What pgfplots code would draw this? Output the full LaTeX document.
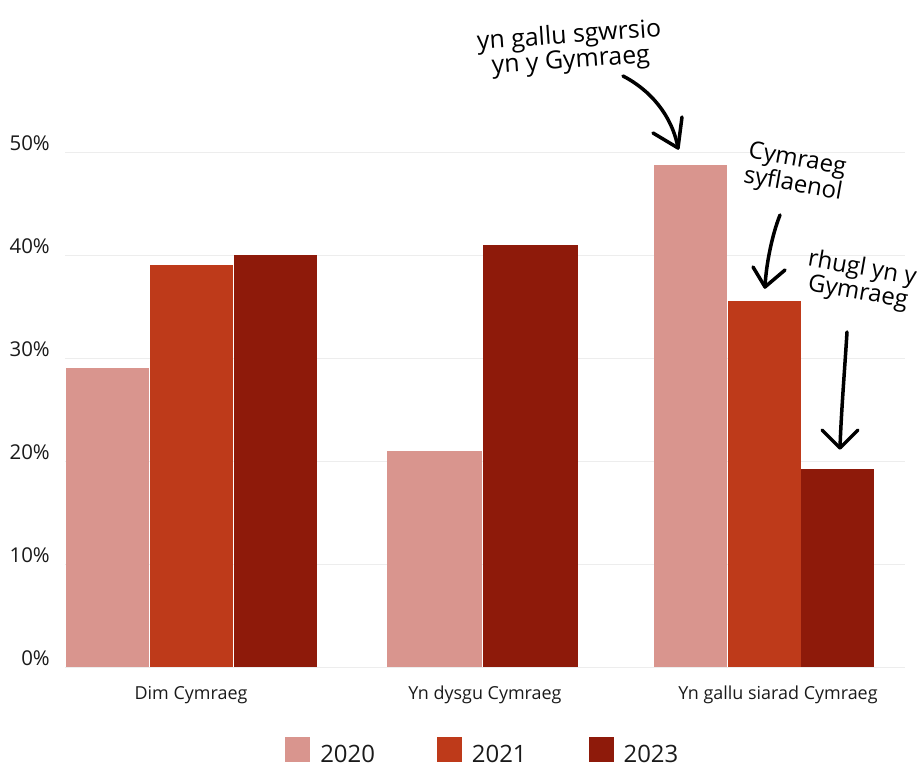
\documentclass[border=0pt]{standalone}
\usepackage{fontspec}
\setmainfont{Open Sans}
\usepackage{pgfplots}
\pgfplotsset{compat=1.18}
\definecolor{cA}{HTML}{D9958E}
\definecolor{cB}{HTML}{BE3A1A}
\definecolor{cC}{HTML}{8E1A0A}
\definecolor{gridc}{HTML}{EDEDED}
\definecolor{txt}{HTML}{1A1A1A}
\begin{document}
\begin{tikzpicture}[x=1bp,y=1bp]
\path[use as bounding box] (0,0) rectangle (922,765);
\begin{axis}[
  at={(65bp,98bp)}, anchor=south west,
  scale only axis, width=840bp, height=515bp,
  xmin=65, xmax=905, ymin=0, ymax=50,
  clip=false,
  axis line style={draw=none},
  major tick style={draw=none},
  ytick={0,10,20,30,40,50},
  yticklabel={\pgfmathprintnumber{\tick}\%},
  /pgf/number format/assume math mode=true,
  ymajorgrids, grid style={color=gridc, line width=0.8bp},
  xtick={191,485,778},
  xticklabels={Dim Cymraeg, Yn dysgu Cymraeg, Yn gallu siarad Cymraeg},
  ticklabel style={font=\fontsize{18}{20}\selectfont, text=txt, inner sep=0pt},
  yticklabel style={font=\fontsize{20.5}{22}\selectfont, anchor=base east, xshift=-15bp, yshift=1bp},
  xticklabel style={anchor=base, yshift=-28bp},
  ybar, bar shift=0pt,
  legend columns=3,
  legend style={draw=none, fill=none, at={(0.2584,-0.1323)}, anchor=north west,
    font=\fontsize{24}{26}\selectfont, text=txt,
    /tikz/every even column/.append style={column sep=62bp},
    nodes={inner sep=0pt, outer sep=0pt}},
  legend image code/.code={\fill (0bp,-8bp) rectangle (25bp,17bp);},
]
% group 1: Dim Cymraeg
\addplot[fill=cA, draw=none, bar width=83, forget plot] coordinates {(107.5,29)};
\addplot[fill=cB, draw=none, bar width=83, forget plot] coordinates {(191.5,39)};
\addplot[fill=cC, draw=none, bar width=83, forget plot] coordinates {(275.5,40)};
% group 2: Yn dysgu Cymraeg
\addplot[fill=cA, draw=none, bar width=95, forget plot] coordinates {(434.5,21)};
\addplot[fill=cC, draw=none, bar width=95, forget plot] coordinates {(530.5,41)};
% group 3: Yn gallu siarad Cymraeg
\addplot[fill=cA, draw=none, bar width=73, forget plot] coordinates {(690.5,48.7)};
\addplot[fill=cB, draw=none, bar width=73, forget plot] coordinates {(764,35.5)};
\addplot[fill=cC, draw=none, bar width=73, forget plot] coordinates {(837.5,19.2)};
\addlegendimage{fill=cA, draw=none}
\addlegendentry{\hspace{10bp}2020}
\addlegendimage{fill=cB, draw=none}
\addlegendentry{\hspace{10bp}2021}
\addlegendimage{fill=cC, draw=none}
\addlegendentry{\hspace{10bp}2023}
\end{axis}
% annotations
\node[rotate=4, align=center, font=\fontsize{25}{20.5}\selectfont, text=black] at (570,716) {yn gallu sgwrsio\\yn y Gymraeg};
\node[rotate=-10, align=center, font=\fontsize{24}{22}\selectfont, text=black] at (795,592) {Cymraeg\\syflaenol};
\node[rotate=-10, align=center, font=\fontsize{24}{22}\selectfont, text=black] at (860,484) {rhugl yn y\\Gymraeg};
\begin{scope}[line width=3.5bp, line cap=round, line join=round]
\draw (623,689) .. controls (650,675) and (672,650) .. (678,617);
\draw (653,632) -- (678,617) -- (682,648);
\draw (780,550) .. controls (772,530) and (766,500) .. (765,478);
\draw (753,498) -- (765,478) -- (785,495);
\draw (847,433) .. controls (845,400) and (841,350) .. (840,317);
\draw (822,335) -- (840,317) -- (858,335);
\end{scope}
\end{tikzpicture}
\end{document}
